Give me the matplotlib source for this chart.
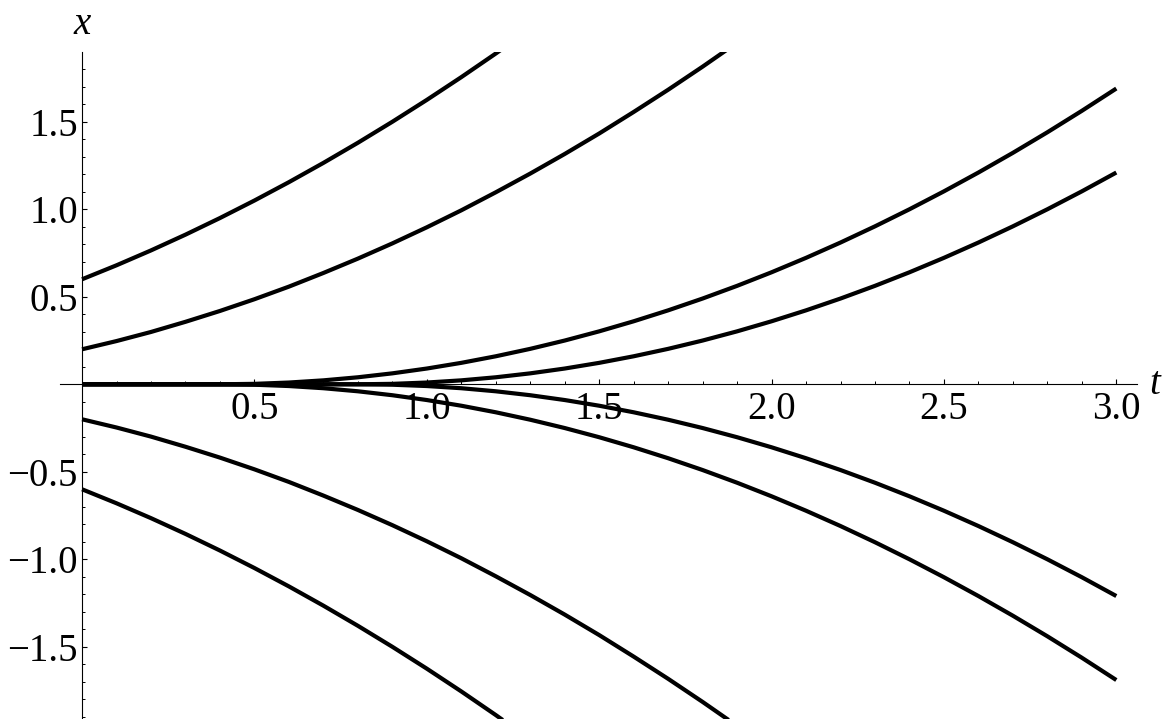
import matplotlib
matplotlib.use("Agg")
import matplotlib.pyplot as plt
from matplotlib.ticker import FixedLocator, FixedFormatter, MultipleLocator

plt.rcParams["font.family"] = ["Liberation Serif", "DejaVu Serif"]

# solutions starting away from zero
t_up1 = [0.0, 0.1, 0.2, 0.3, 0.4, 0.5, 0.6, 0.7, 0.8, 0.9, 1.0, 1.1, 1.2, 1.3]
x_up1 = [0.600, 0.680, 0.765, 0.855, 0.950, 1.050, 1.155, 1.265, 1.380, 1.500,
         1.625, 1.755, 1.890, 2.030]
x_dn1 = [-0.600, -0.680, -0.765, -0.855, -0.950, -1.050, -1.155, -1.265, -1.380, -1.500,
         -1.625, -1.755, -1.890, -2.030]
t_up2 = [0.0, 0.1, 0.2, 0.3, 0.4, 0.5, 0.6, 0.7, 0.8, 0.9, 1.0,
         1.1, 1.2, 1.3, 1.4, 1.5, 1.6, 1.7, 1.8, 1.9, 2.0]
x_up2 = [0.200, 0.247, 0.299, 0.357, 0.419, 0.486, 0.558, 0.636, 0.718, 0.805, 0.897,
         0.994, 1.097, 1.204, 1.316, 1.433, 1.556, 1.683, 1.815, 1.952, 2.094]
x_dn2 = [-0.200, -0.247, -0.299, -0.357, -0.419, -0.486, -0.558, -0.636, -0.718, -0.805, -0.897,
         -0.994, -1.097, -1.204, -1.316, -1.433, -1.556, -1.683, -1.815, -1.952, -2.094]

# solutions that sit on zero and then leave it
t_long = [0.0, 0.1, 0.2, 0.3, 0.4, 0.5, 0.6, 0.7, 0.8, 0.9, 1.0,
          1.1, 1.2, 1.3, 1.4, 1.5, 1.6, 1.7, 1.8, 1.9, 2.0,
          2.1, 2.2, 2.3, 2.4, 2.5, 2.6, 2.7, 2.8, 2.9, 3.0]
x_leave1 = [0.0, 0.0, 0.0, 0.0, 0.0, 0.0025, 0.01, 0.0225, 0.04, 0.0625, 0.09,
            0.1225, 0.16, 0.2025, 0.25, 0.3025, 0.36, 0.4225, 0.49, 0.5625, 0.64,
            0.7225, 0.81, 0.9025, 1.0, 1.1025, 1.21, 1.3225, 1.44, 1.5625, 1.69]
x_leave2 = [0.0, 0.0, 0.0, 0.0, 0.0, 0.0, 0.0, 0.0, 0.0, 0.0025, 0.01,
            0.0225, 0.04, 0.0625, 0.09, 0.1225, 0.16, 0.2025, 0.25, 0.3025, 0.36,
            0.4225, 0.49, 0.5625, 0.64, 0.7225, 0.81, 0.9025, 1.0, 1.1025, 1.21]
x_leave3 = [-v for v in x_leave1]
x_leave4 = [-v for v in x_leave2]

x_ticks = [0.5, 1.0, 1.5, 2.0, 2.5, 3.0]
x_tick_labels = ["0.5", "1.0", "1.5", "2.0", "2.5", "3.0"]
y_ticks = [-1.5, -1.0, -0.5, 0.5, 1.0, 1.5]
y_tick_labels = ["\u22121.5", "\u22121.0", "\u22120.5", "0.5", "1.0", "1.5"]

W, H = 1165, 719
fig = plt.figure(figsize=(W / 100, H / 100), dpi=100)
ax = fig.add_axes([60 / W, 0, (1137 - 60) / W, (H - 52.3) / H])

curves = [
    (t_up1, x_up1), (t_up2, x_up2), (t_up1, x_dn1), (t_up2, x_dn2),
    (t_long, x_leave1), (t_long, x_leave2), (t_long, x_leave3), (t_long, x_leave4),
]
for tt, xx in curves:
    ax.plot(tt, xx, color="black", lw=3.0, solid_capstyle="butt", solid_joinstyle="round")

ax.set_xlim(-0.064, 3.06)
ax.set_ylim(-1.9126, 1.897)

for s in ["top", "right"]:
    ax.spines[s].set_visible(False)
ax.spines["left"].set_position(("data", 0))
ax.spines["bottom"].set_position(("data", 0))
for s in ["left", "bottom"]:
    ax.spines[s].set_linewidth(0.8)

ax.xaxis.set_major_locator(FixedLocator(x_ticks))
ax.xaxis.set_major_formatter(FixedFormatter(x_tick_labels))
ax.yaxis.set_major_locator(FixedLocator(y_ticks))
ax.yaxis.set_major_formatter(FixedFormatter(y_tick_labels))
ax.xaxis.set_minor_locator(MultipleLocator(0.1))
ax.yaxis.set_minor_locator(MultipleLocator(0.1))

ax.tick_params(axis="both", which="major", direction="in", length=3.4, width=0.8,
               labelsize=28)
ax.tick_params(axis="both", which="minor", direction="in", length=2.0, width=0.7)
ax.tick_params(axis="x", which="major", pad=5)
ax.tick_params(axis="y", which="major", pad=3)

fig.text(82 / W, 1 - 25 / H, "x", style="italic", fontsize=28, ha="center", va="center")
fig.text(1155 / W, 1 - 384 / H, "t", style="italic", fontsize=28, ha="center", va="center")

fig.savefig("out.png", dpi=100)
